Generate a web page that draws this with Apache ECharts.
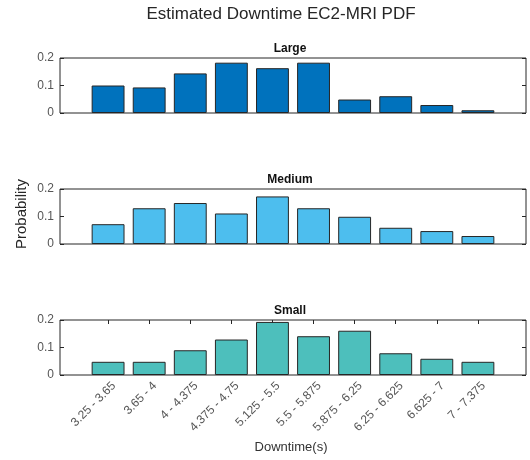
<!DOCTYPE html>
<html>
<head>
<meta charset="utf-8">
<script src="https://cdn.jsdelivr.net/npm/echarts@6/dist/echarts.min.js"></script>
<style>html,body{margin:0;padding:0;background:#fff}#c{width:530px;height:460px}</style>
</head>
<body>
<div id="c"></div>
<script>
var categories = ["3.25 - 3.65", "3.65 - 4", "4 - 4.375", "4.375 - 4.75", "5.125 - 5.5", "5.5 - 5.875", "5.875 - 6.25", "6.25 - 6.625", "6.625 - 7", "7 - 7.375"];
var large  = [0.100, 0.093, 0.144, 0.183, 0.163, 0.183, 0.049, 0.061, 0.029, 0.010];
var medium = [0.072, 0.130, 0.149, 0.111, 0.173, 0.130, 0.099, 0.059, 0.047, 0.029];
var small  = [0.048, 0.048, 0.090, 0.129, 0.193, 0.141, 0.161, 0.079, 0.059, 0.048];
var yTicks = [0, 0.1, 0.2];
var panelNames = ["Large", "Medium", "Small"];
var panelValues = [large, medium, small];
var panelColors = ["#0072BD", "#4DBEEE", "#4DBFBC"];

var FONT = "Liberation Sans, Arial, Helvetica, sans-serif";
var positions = categories.map(function (c, i) { return i + 1; });
var tops = [58, 189, 320];
var H = 55, L = 60, W = 466;
var XMIN = -0.17, XMAX = 11.17;
var labelShift = 0.14; // rotated tick labels sit slightly right of their ticks

var grids = [], xAxes = [], yAxes = [], series = [], graphics = [];
tops.forEach(function (t, g) {
  grids.push({left: L, top: t, width: W, height: H, show: true, borderColor: "#262626", borderWidth: 1, backgroundColor: "#fff", containLabel: false});
  var isLast = g === 2;
  xAxes.push({
    gridIndex: g, type: "value", min: XMIN, max: XMAX, position: "bottom",
    axisLine: {show: false, onZero: false}, splitLine: {show: false},
    axisTick: {show: isLast, inside: true, length: 4, lineStyle: {color: "#262626"}, customValues: positions},
    axisLabel: {show: false}
  });
  xAxes.push({
    gridIndex: g, type: "value", min: XMIN, max: XMAX, position: "top",
    axisLine: {show: false, onZero: false}, splitLine: {show: false}, axisLabel: {show: false},
    axisTick: {show: isLast, inside: true, length: 4, lineStyle: {color: "#262626"}, customValues: positions}
  });
  yAxes.push({
    gridIndex: g, type: "value", min: yTicks[0], max: yTicks[yTicks.length - 1], interval: 0.1, position: "left",
    axisLine: {show: false, onZero: false}, splitLine: {show: false},
    axisTick: {show: true, inside: true, length: 4, lineStyle: {color: "#262626"}},
    axisLabel: {show: true, fontSize: 12, fontFamily: FONT, color: "#555", margin: 6}
  });
  yAxes.push({
    gridIndex: g, type: "value", min: yTicks[0], max: yTicks[yTicks.length - 1], interval: 0.1, position: "right",
    axisLine: {show: false, onZero: false}, splitLine: {show: false}, axisLabel: {show: false},
    axisTick: {show: true, inside: true, length: 4, lineStyle: {color: "#262626"}}
  });
  series.push({
    type: "bar", xAxisIndex: g * 2, yAxisIndex: g * 2, barWidth: "80%",
    data: panelValues[g].map(function (v, i) { return [positions[i], v]; }),
    itemStyle: {color: panelColors[g], borderColor: "#262626", borderWidth: 1},
    silent: true, animation: false
  });
  graphics.push({type: "text", x: L + W / 2 - 3, y: t - 15,
    style: {text: panelNames[g], font: "bold 12px " + FONT, fill: "#111", textAlign: "center", textVerticalAlign: "top"}});
});

// label-only axis for the bottom panel's rotated category labels
xAxes.push({
  gridIndex: 2, type: "value", min: XMIN - labelShift, max: XMAX - labelShift, position: "bottom",
  axisLine: {show: false, onZero: false}, splitLine: {show: false}, axisTick: {show: false},
  axisLabel: {show: true, customValues: positions, rotate: 45, margin: 9, fontSize: 12, fontFamily: FONT, color: "#555",
    formatter: function (v) { return categories[Math.round(v) - 1] || ""; }}
});

graphics.push({type: "text", x: 281, y: 6,
  style: {text: "Estimated Downtime EC2-MRI PDF", font: "17px " + FONT, fill: "#262626", textAlign: "center", textVerticalAlign: "top"}});
graphics.push({type: "text", x: 22, y: 214, rotation: Math.PI / 2,
  style: {text: "Probability", font: "15px " + FONT, fill: "#262626", textAlign: "center", textVerticalAlign: "middle"}});
graphics.push({type: "text", x: 291, y: 447,
  style: {text: "Downtime(s)", font: "13px " + FONT, fill: "#333", textAlign: "center", textVerticalAlign: "middle"}});

var chart = echarts.init(document.getElementById("c"), null, {renderer: "canvas"});
chart.setOption({
  animation: false,
  backgroundColor: "#fff",
  grid: grids, xAxis: xAxes, yAxis: yAxes, series: series, graphic: graphics
});
</script>
</body>
</html>
